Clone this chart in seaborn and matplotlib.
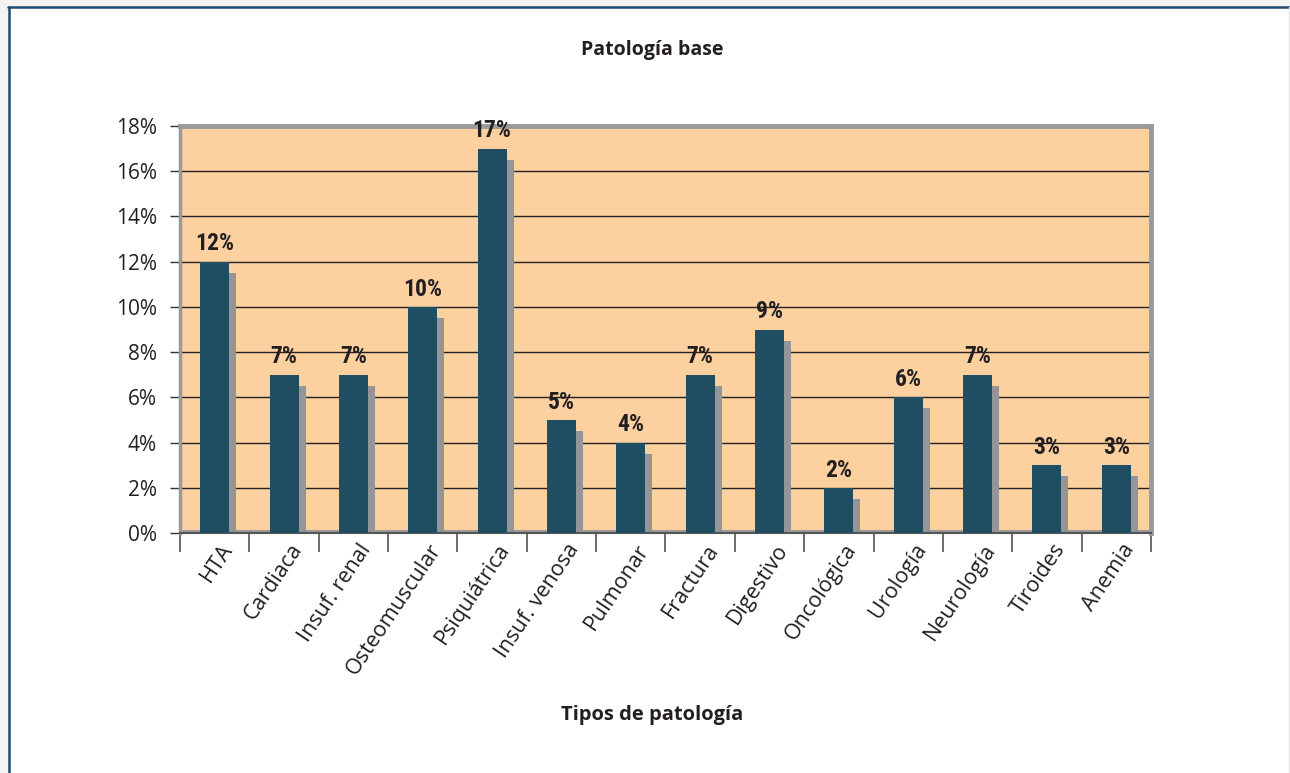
import matplotlib
matplotlib.use("Agg")
import matplotlib.pyplot as plt
from matplotlib.transforms import ScaledTranslation
from matplotlib.lines import Line2D
from matplotlib.patches import Rectangle
from matplotlib import font_manager as fm
import seaborn as sns
import pandas as pd
import numpy as np

categories = ["HTA", "Cardiaca", "Insuf. renal", "Osteomuscular", "Psiquiátrica",
              "Insuf. venosa", "Pulmonar", "Fractura", "Digestivo", "Oncológica",
              "Urología", "Neurología", "Tiroides", "Anemia"]
values = [12, 7, 7, 10, 17, 5, 4, 7, 9, 2, 6, 7, 3, 3]
yticks = [0, 2, 4, 6, 8, 10, 12, 14, 16, 18]
ytick_labels = [f"{v}%" for v in yticks]
title = "Patología base"
xlabel = "Tipos de patología"

sns.set_style("white")
plt.rcParams["font.family"] = ["Open Sans", "DejaVu Sans"]

# pick a condensed bold font for the data labels if available
names = {f.name for f in fm.fontManager.ttflist}
label_kw = {}
for cand in ["Liberation Sans Narrow", "Roboto Condensed", "Open Sans Condensed",
             "DejaVu Sans Condensed"]:
    if cand in names:
        label_kw = {"family": [cand, "DejaVu Sans"]}
        break
if not label_kw:
    cond = [f for f in fm.fontManager.ttflist
            if f.name == "DejaVu Sans" and "ondensed" in str(f.stretch) + f.fname]
    if cond:
        label_kw = {"family": ["DejaVu Sans"], "stretch": "condensed"}
    else:
        label_kw = {"family": ["Roboto", "DejaVu Sans"]}

DPI = 100
fig = plt.figure(figsize=(12.9, 7.73), dpi=DPI)
W, H = 1290, 773

# page background details
fig.patches.append(Rectangle((0, 1 - 6 / H), 1, 6 / H, transform=fig.transFigure,
                             color="#f3f3f3", zorder=0))
fig.patches.append(Rectangle((0, 0), 8 / W, 1, transform=fig.transFigure,
                             color="#f3f3f3", zorder=0))
fig.lines.append(Line2D([8 / W, 1], [1 - 7 / H, 1 - 7 / H], transform=fig.transFigure,
                        color="#1B4A73", lw=1.8))
fig.lines.append(Line2D([8.5 / W, 8.5 / W], [0, 1 - 7 / H], transform=fig.transFigure,
                        color="#1B4A73", lw=1.8))
fig.lines.append(Line2D([1288.5 / W, 1288.5 / W], [0, 1 - 7 / H], transform=fig.transFigure,
                        color="#e6e6e6", lw=1))

left, right, top, bottom = 180, 1151, 126, 533
ax = fig.add_axes([left / W, 1 - bottom / H, (right - left) / W, (bottom - top) / H])
ax.set_facecolor("#FDD09F")

df = pd.DataFrame({"cat": categories, "val": values})
bar_w = 29 / ((right - left) / len(categories))

# shadow bars
sns.barplot(data=df, x="cat", y="val", color="#939598", width=bar_w, saturation=1,
            ax=ax, zorder=2)
n_shadow = len(ax.patches)
shift = ScaledTranslation(7 / DPI, -11 / DPI, fig.dpi_scale_trans)
for p in ax.patches[:n_shadow]:
    p.set_transform(ax.transData + shift)
    p.set_linewidth(0)

# front bars
sns.barplot(data=df, x="cat", y="val", color="#1F4E63", width=bar_w, saturation=1,
            ax=ax, zorder=3)
for p in ax.patches[n_shadow:]:
    p.set_linewidth(0)

# data labels
for i, v in enumerate(values):
    ax.annotate(f"{v}%", (i, v), xytext=(0, 4.5), textcoords="offset points",
                ha="center", va="bottom", fontsize=17, fontweight="bold",
                color="#231f20", zorder=5, **label_kw)

ax.set_xlim(-0.5, len(categories) - 0.5)
ax.set_ylim(0, 18)
ax.set_yticks(yticks)
ax.set_yticklabels(ytick_labels, fontsize=15, color="#231f20")
ax.tick_params(axis="y", length=7.2, width=1, color="#333333", pad=9.4, left=True)

# gridlines
for y in yticks[1:-1]:
    ax.axhline(y, color="#231f20", lw=1, zorder=1)
# floor strip
ax.axhspan(0, 0.15, color="#9a9a9a", zorder=1.5, lw=0)

# x ticks
ax.set_xticks(range(len(categories)))
ax.set_xticklabels(categories, rotation=56, ha="right", va="top",
                   rotation_mode="anchor", fontsize=15.5, color="#231f20")
ax.set_xticks(np.arange(-0.5, len(categories)), minor=True)
ax.tick_params(axis="x", which="major", length=0, pad=5)
ax.tick_params(axis="x", which="minor", length=13.7, width=1.2, color="#555555",
               bottom=True)
lbl_shift = ScaledTranslation(5 / DPI, 0, fig.dpi_scale_trans)
for t in ax.get_xticklabels():
    t.set_transform(t.get_transform() + lbl_shift)
ax.set_xlabel("")
ax.set_ylabel("")

ax.spines["left"].set_color("#9a9a9a")
ax.spines["left"].set_linewidth(2.5)
for s in ["top", "right"]:
    ax.spines[s].set_color("#9a9a9a")
    ax.spines[s].set_linewidth(3.5)
ax.spines["bottom"].set_color("#555555")
ax.spines["bottom"].set_linewidth(1.5)
for s in ax.spines.values():
    s.set_visible(True)

fig.text(652 / W, 1 - 50 / H, title, ha="center", va="center", fontsize=14,
         fontweight="bold", color="#231f20")
fig.text(652 / W, 1 - 715 / H, xlabel, ha="center", va="center", fontsize=14.5,
         fontweight="bold", color="#231f20")

fig.savefig("out.png", dpi=DPI, facecolor="white")
